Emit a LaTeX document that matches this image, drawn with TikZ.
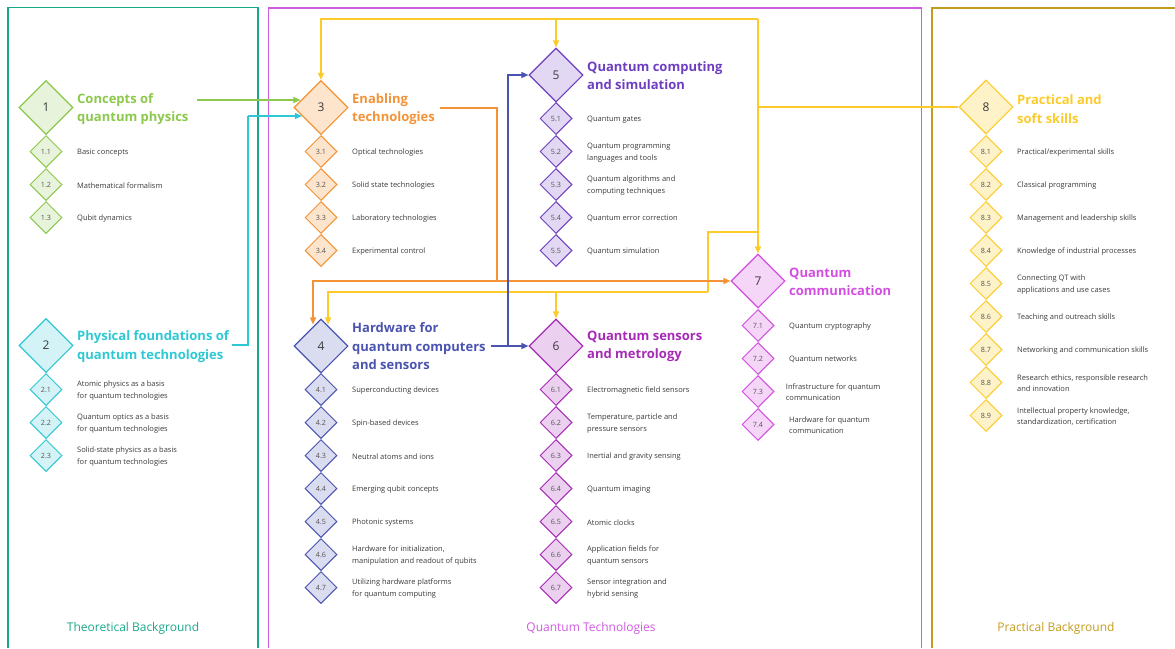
\documentclass[tikz,border=0pt]{standalone}
\usepackage{fontspec}
\setmainfont{Open Sans}
\usetikzlibrary{shapes.geometric,arrows.meta}
\definecolor{frT}{HTML}{1AA88A}
\definecolor{frQ}{HTML}{CF5BE0}
\definecolor{frP}{HTML}{C49C1C}
\definecolor{gr}{HTML}{8CC84B}\definecolor{grf}{HTML}{E8F3DC}
\definecolor{cy}{HTML}{2EC8D4}\definecolor{cyf}{HTML}{D4F3F6}
\definecolor{orr}{HTML}{F39237}\definecolor{orf}{HTML}{FDE4CC}
\definecolor{ind}{HTML}{4A54B0}\definecolor{indf}{HTML}{DADCF0}
\definecolor{vio}{HTML}{6D3FC0}\definecolor{viof}{HTML}{E2D8F3}
\definecolor{pur}{HTML}{A62AB6}\definecolor{purf}{HTML}{ECD0EF}
\definecolor{mag}{HTML}{D24EE0}\definecolor{magf}{HTML}{F5D6F8}
\definecolor{gol}{HTML}{FCCB2A}\definecolor{golf}{HTML}{FEF2C8}
\definecolor{txt}{HTML}{3A3A3A}
\definecolor{numg}{HTML}{555555}
\tikzset{
  bigd/.style n args={2}{diamond,draw=#1,fill=#2,line width=1.1pt,minimum width=54pt,minimum height=54pt,inner sep=0pt,font=\fontsize{12}{14}\selectfont,text=txt},
  subd/.style n args={2}{diamond,draw=#1,fill=#2,line width=1pt,minimum width=32pt,minimum height=32pt,inner sep=0pt,font=\fontsize{7.2}{8}\selectfont,text=numg},
  ttl/.style={anchor=west,align=left,inner sep=0pt,font=\bfseries\fontsize{13}{18.5}\selectfont,text=#1},
  lab/.style={anchor=west,align=left,inner sep=0pt,font=\fontsize{7.5}{11.3}\selectfont,text=txt},
  frame/.style={draw=#1,line width=1.4pt},
  flab/.style={inner sep=0pt,font=\fontsize{12}{14}\selectfont,text=#1},
  wire/.style={draw=#1,line width=1.4pt},
  wirearr/.style={draw=#1,line width=1.4pt,-{Triangle[length=7pt,width=6pt]}}
}
\begin{document}
\begin{tikzpicture}[x=1pt,y=-1pt]
\useasboundingbox (0,0) rectangle (1175,648);
% frames
\draw[frame=frT] (8,648) -- (8,7.5) -- (258,7.5) -- (258,648);
\draw[frame=frQ] (268.5,648) -- (268.5,8) -- (921.5,8) -- (921.5,648);
\draw[frame=frP] (932,648) -- (932,8) -- (1176,8);
\node[flab=frT] (fT) at (133,628) {Theoretical Background};
\node[flab=frQ] (fQ) at (591,628) {Quantum Technologies};
\node[flab=frP] (fP) at (1056,628) {Practical Background};

% group 1
\node[bigd={gr}{grf}] (d1) at (46,107.5) {1};
\node[ttl=gr] (t1) at (77,109) {Concepts of\\quantum physics};
\foreach \i/\y/\t in {1/151.5/{Basic concepts},2/184.5/{Mathematical formalism},3/217.5/{Qubit dynamics}}{
  \node[subd={gr}{grf}] (d1\i) at (46,\y) {1.\i};
  \node[lab] (l1\i) at (77,\y+1) {\t};
}
% group 2
\node[bigd={cy}{cyf}] (d2) at (46,345.5) {2};
\node[ttl=cy] (t2) at (77,346.5) {Physical foundations of\\quantum technologies};
\foreach \i/\y/\t in {1/389.5/{Atomic physics as a basis\\for quantum technologies},2/422.5/{Quantum optics as a basis\\for quantum technologies},3/455.5/{Solid-state physics as a basis\\for quantum technologies}}{
  \node[subd={cy}{cyf}] (d2\i) at (46,\y) {2.\i};
  \node[lab] (l2\i) at (77,\y+1) {\t};
}
% group 3
\node[bigd={orr}{orf}] (d3) at (321,107.5) {3};
\node[ttl=orr] (t3) at (352,109) {Enabling\\technologies};
\foreach \i/\y/\t in {1/151.5/{Optical technologies},2/184.5/{Solid state technologies},3/217.5/{Laboratory technologies},4/250.5/{Experimental control}}{
  \node[subd={orr}{orf}] (d3\i) at (321,\y) {3.\i};
  \node[lab] (l3\i) at (352,\y+1) {\t};
}
% group 5
\node[bigd={vio}{viof}] (d5) at (556,75) {5};
\node[ttl=vio] (t5) at (587,75.5) {Quantum computing\\and simulation};
\foreach \i/\y/\t in {1/118.5/{Quantum gates},2/151.5/{Quantum programming\\languages and tools},3/184.5/{Quantum algorithms and\\computing techniques},4/217.5/{Quantum error correction},5/250.5/{Quantum simulation}}{
  \node[subd={vio}{viof}] (d5\i) at (556,\y) {5.\i};
  \node[lab] (l5\i) at (587,\y+1) {\t};
}
% group 4
\node[bigd={ind}{indf}] (d4) at (321,346) {4};
\node[ttl=ind] (t4) at (352,346.5) {Hardware for\\quantum computers\\and sensors};
\foreach \i/\y/\t in {1/389.5/{Superconducting devices},2/422.5/{Spin-based devices},3/455.5/{Neutral atoms and ions},4/488.5/{Emerging qubit concepts},5/521.5/{Photonic systems},6/554.5/{Hardware for initialization,\\manipulation and readout of qubits},7/587.5/{Utilizing hardware platforms\\for quantum computing}}{
  \node[subd={ind}{indf}] (d4\i) at (321,\y) {4.\i};
  \node[lab] (l4\i) at (352,\y+1) {\t};
}
% group 6
\node[bigd={pur}{purf}] (d6) at (556,346) {6};
\node[ttl=pur] (t6) at (587,346.5) {Quantum sensors\\and metrology};
\foreach \i/\y/\t in {1/389.5/{Electromagnetic field sensors},2/422.5/{Temperature, particle and\\pressure sensors},3/455.5/{Inertial and gravity sensing},4/488.5/{Quantum imaging},5/521.5/{Atomic clocks},6/554.5/{Application fields for\\quantum sensors},7/587.5/{Sensor integration and\\hybrid sensing}}{
  \node[subd={pur}{purf}] (d6\i) at (556,\y) {6.\i};
  \node[lab] (l6\i) at (587,\y+1) {\t};
}
% group 7
\node[bigd={mag}{magf}] (d7) at (758,281) {7};
\node[ttl=mag] (t7) at (789,282) {Quantum\\communication};
\foreach \i/\y/\x/\t in {1/325.5/789/{Quantum cryptography},2/358.5/789/{Quantum networks},3/391.5/785.7/{Infrastructure for quantum\\communication},4/424.5/789/{Hardware for quantum\\communication}}{
  \node[subd={mag}{magf}] (d7\i) at (758,\y) {7.\i};
  \node[lab] (l7\i) at (\x,\y+1) {\t};
}
% group 8
\node[bigd={gol}{golf}] (d8) at (986,107) {8};
\node[ttl=gol] (t8) at (1017,109) {Practical and\\soft skills};
\foreach \i/\y/\t in {1/151.5/{Practical/experimental skills},2/184.5/{Classical programming},3/217.5/{Management and leadership skills},4/250.5/{Knowledge of industrial processes},5/283.5/{Connecting QT with\\applications and use cases},6/316.5/{Teaching and outreach skills},7/349.5/{Networking and communication skills},8/382.5/{Research ethics, responsible research\\and innovation},9/415.5/{Intellectual property knowledge,\\standardization, certification}}{
  \node[subd={gol}{golf}] (d8\i) at (986,\y) {8.\i};
  \node[lab] (l8\i) at (1017,\y+1) {\t};
}

% connector coordinates
\coordinate (c1s) at (197,100);
\coordinate (c2s) at (232,345);
\coordinate (cb) at (248,116);
\coordinate (ytr) at (758,19);
\coordinate (yj) at (758,232);
\coordinate (yc) at (708,292);
\coordinate (o3s) at (440,108);
\coordinate (oc) at (497,281);
\coordinate (b4s) at (491,346);
\coordinate (bj) at (508,346);

% green
\draw[wirearr=gr] (c1s) -- ([xshift=7pt,yshift=7.5pt]d3.west);
% cyan
\draw[wire=cy] (c2s) -| (cb);
\draw[wirearr=cy] (cb) -- ([xshift=8.5pt,yshift=-8.5pt]d3.west);
% yellow
\draw[wire=gol] (d8.west) -- (d8.west -| ytr);
\draw[wirearr=gol] (ytr) -- (d7.north);
\draw[wirearr=gol] (ytr) -| (d3.north);
\draw[wirearr=gol] (ytr -| d5.north) -- (d5.north);
\draw[wire=gol] (yj) -| (yc);
\draw[wirearr=gol] (yc) -| ([xshift=7pt,yshift=-6pt]d4.north);
\draw[wirearr=gol] (yc -| d6.north) -- (d6.north);
% orange
\draw[wire=orr] (o3s) -| (oc);
\draw[wirearr=orr] (oc) -- (d7.west);
\draw[wirearr=orr] (oc) -| ([xshift=-8pt,yshift=-6pt]d4.north);
% blue
\draw[wirearr=ind] (b4s) -- (d6.west);
\draw[wirearr=ind] (bj) |- (d5.west);
\end{tikzpicture}
\end{document}
